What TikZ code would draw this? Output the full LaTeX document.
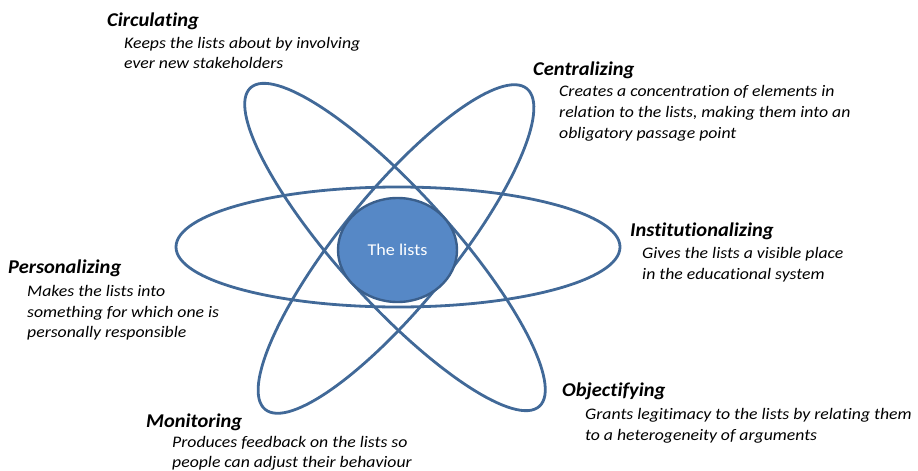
\documentclass[tikz,border=0pt]{standalone}
\usepackage{fontspec}
\setmainfont{Carlito}
\newfontfamily\headfont{Carlito}[FakeStretch=1.05,Ligatures=NoCommon]
\newfontfamily\bodyfont{Carlito}[FakeStretch=1.1,Ligatures=NoCommon]
\usetikzlibrary{shapes.geometric}
\definecolor{orbit}{RGB}{65,105,152}
\definecolor{corefill}{RGB}{86,136,198}
\definecolor{coreline}{RGB}{58,95,140}
\begin{document}
\begin{tikzpicture}[x=1pt,y=-1pt,
  orbitline/.style={draw=orbit,line width=2.8pt},
  headtxt/.style={anchor=base west,inner sep=0pt,font=\headfont\fontsize{19.5}{21}\selectfont\bfseries\itshape},
  bodytxt/.style={anchor=base west,inner sep=0pt,font=\bodyfont\fontsize{16.1}{20}\selectfont\itshape}]
\useasboundingbox (0,0) rectangle (918,471);
% orbits
\draw[orbitline] (398,247) ellipse [x radius=222pt, y radius=60pt];
\draw[orbitline, rotate around={-47.8:(395,247)}] (395,247) ellipse [x radius=215pt, y radius=56pt];
\draw[orbitline, rotate around={50.8:(396,249)}] (396,249) ellipse [x radius=207pt, y radius=56pt];
% core
\node[ellipse,draw=coreline,fill=corefill,line width=2.4pt,minimum width=119pt,minimum height=104pt,inner sep=0pt,
  text=white,font=\bodyfont\fontsize{16.5}{18}\selectfont] (core) at (397.5,250) {The lists};
% Circulating
\node[headtxt] (circH) at (107,26) {Circulating};
\node[bodytxt] (circA) at (124,48) {Keeps the lists about by involving};
\node[bodytxt] (circB) at (124,68.5) {ever new stakeholders};
% Centralizing
\node[headtxt] (centH) at (533,75) {Centralizing};
\node[bodytxt] (centA) at (559,96.5) {Creates a concentration of elements in};
\node[bodytxt] (centB) at (559,117) {relation to the lists, making them into an};
\node[bodytxt] (centC) at (559,138) {obligatory passage point};
% Institutionalizing
\node[headtxt] (instH) at (630,236) {Institutionalizing};
\node[bodytxt] (instA) at (642,258) {Gives the lists a visible place};
\node[bodytxt] (instB) at (642,279) {in the educational system};
% Personalizing
\node[headtxt] (persH) at (8,273) {Personalizing};
\node[bodytxt] (persA) at (27,296) {Makes the lists into};
\node[bodytxt] (persB) at (27,317) {something for which one is};
\node[bodytxt] (persC) at (27,337.5) {personally responsible};
% Objectifying
\node[headtxt] (objH) at (562,396) {Objectifying};
\node[bodytxt] (objA) at (585,419.5) {Grants legitimacy to the lists by relating them};
\node[bodytxt] (objB) at (585,440.5) {to a heterogeneity of arguments};
% Monitoring
\node[headtxt] (monH) at (146,427) {Monitoring};
\node[bodytxt] (monA) at (172,447) {Produces feedback on the lists so};
\node[bodytxt] (monB) at (172,467) {people can adjust their behaviour};
\end{tikzpicture}
\end{document}
